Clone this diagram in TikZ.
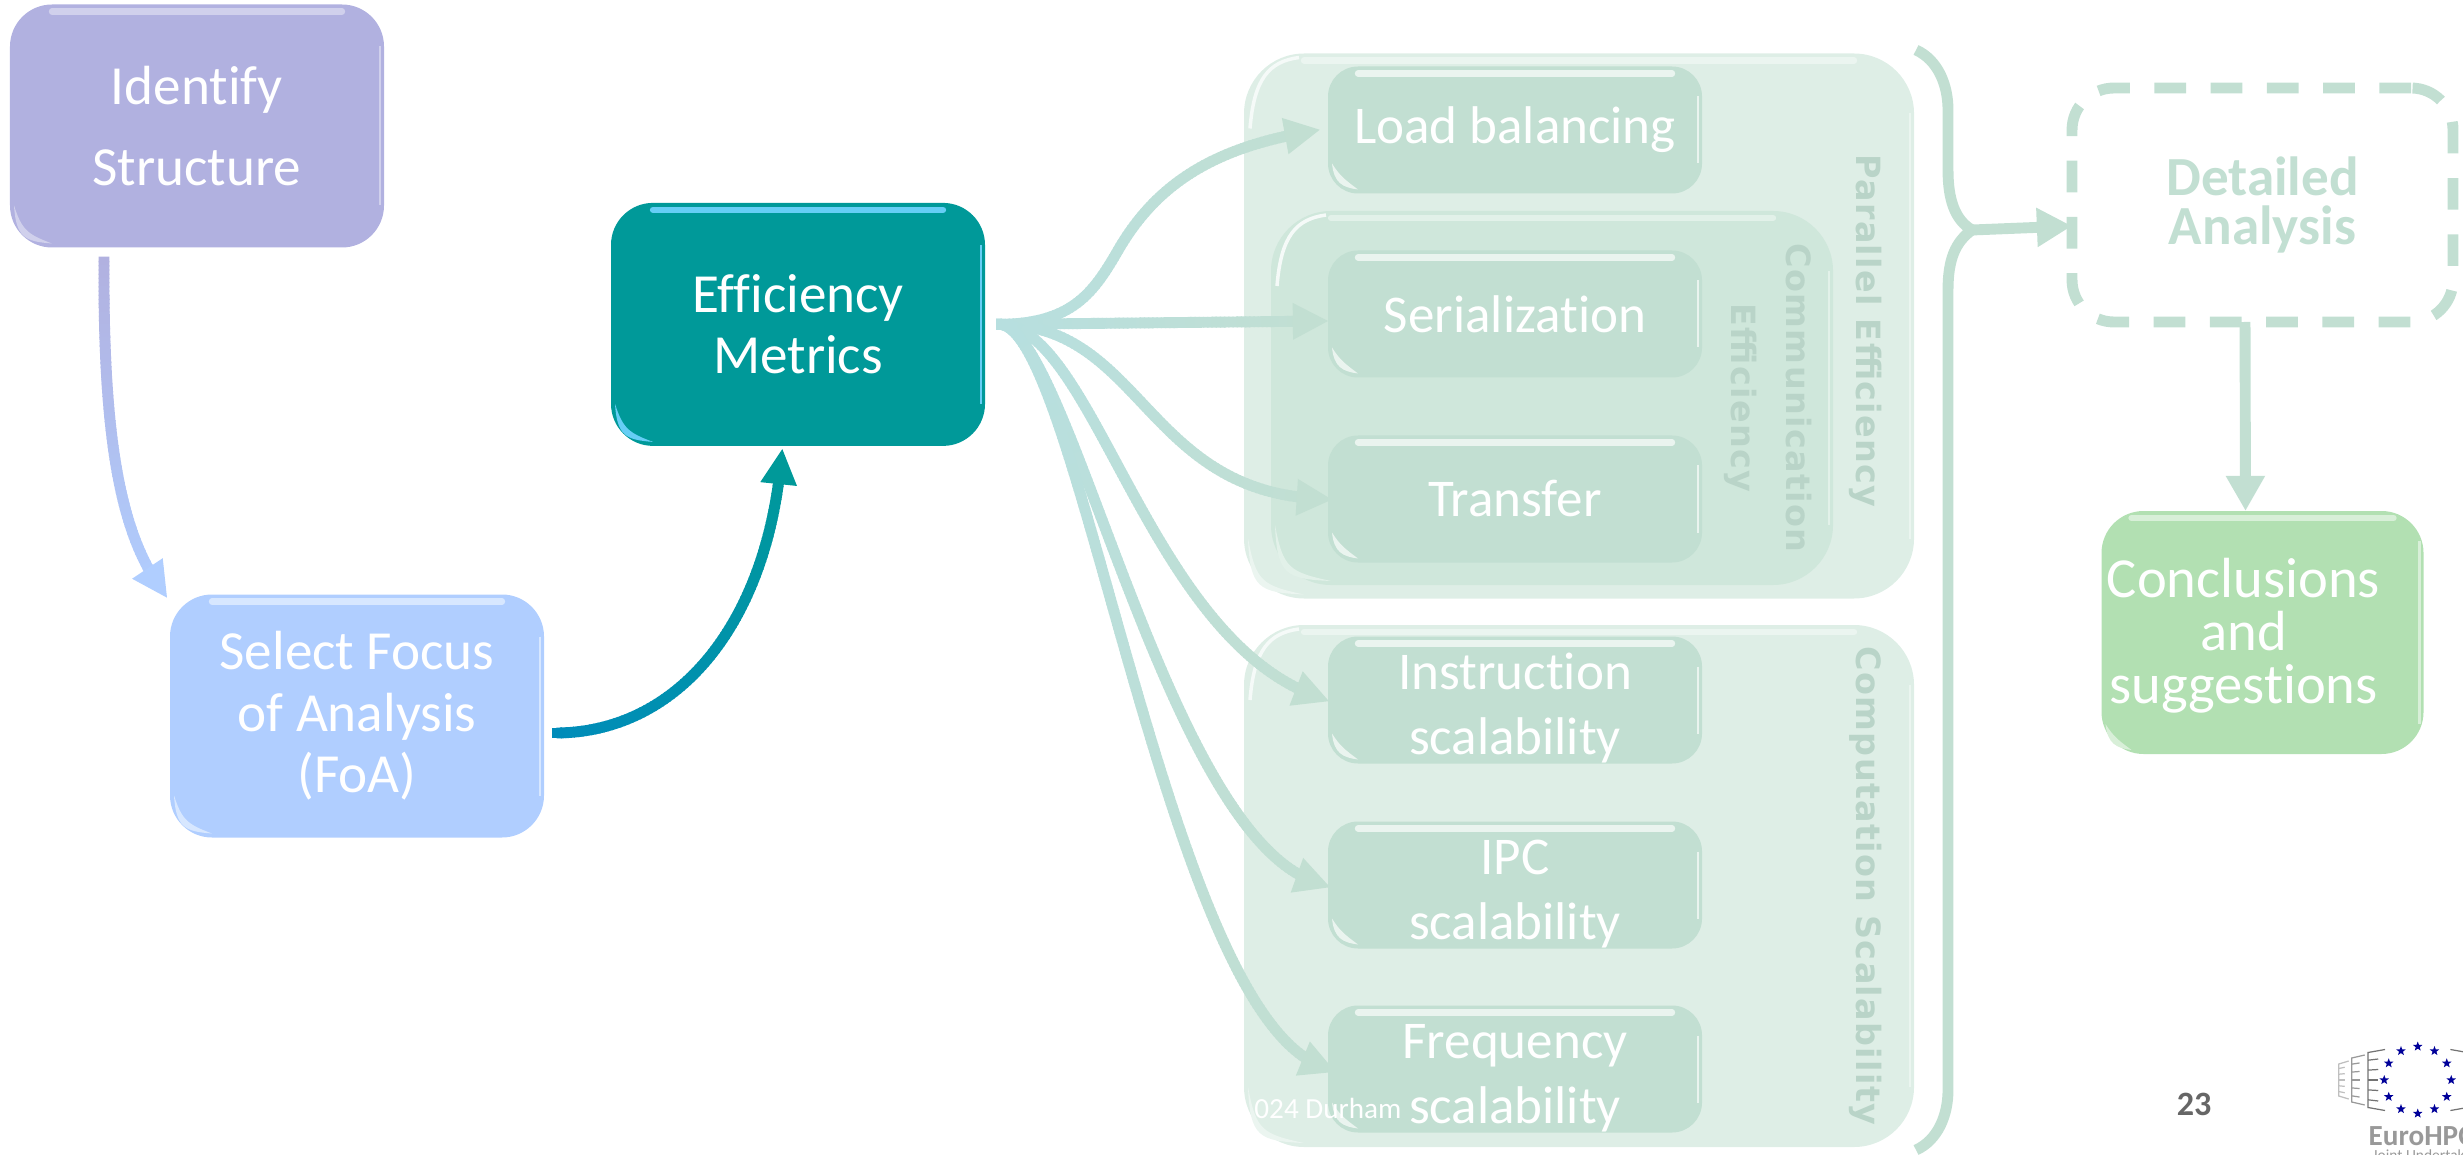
\documentclass[tikz,border=0pt]{standalone}
\usepackage{fontspec}
\setmainfont{Carlito}[Ligatures=NoCommon]
\newfontfamily\sidefont{DejaVu Sans}[LetterSpace=4]
\usetikzlibrary{arrows.meta,positioning,shapes.geometric,decorations.markings,calc}
\definecolor{identcol}{HTML}{B1B1E0}
\definecolor{foacol}{HTML}{B0CEFF}
\definecolor{effcol}{HTML}{009999}
\definecolor{linkcol}{HTML}{008CBA}
\definecolor{fancol}{HTML}{B7DFDF}
\definecolor{leafcol}{HTML}{C2DFD2}
\definecolor{outercol}{HTML}{DEEEE6}
\definecolor{innercol}{HTML}{CFE7DB}
\definecolor{conccol}{HTML}{B2E0B2}
\definecolor{sidecol}{HTML}{B9D4C8}
\tikzset
{
    process/.style={rectangle, rounded corners=0.42cm, minimum width=3.74cm, minimum height=2.43cm, inner sep=0pt, outer sep=0pt, align=center, text=white, font=\fontsize{15.7}{#1}\selectfont},
    leaf/.style={process=19, rounded corners=0.3cm, minimum height=1.27cm, fill=leafcol, font=\fontsize{15.1}{18.7}\selectfont},
    group/.style={rectangle, rounded corners=0.6cm, minimum width=6.7cm, inner sep=0pt, outer sep=0pt},
    sidelabel/.style={rotate=-90, align=center, text=sidecol, font=\sidefont\bfseries\fontsize{9.5}{15.4}\selectfont},
    arrow/.style={line width=3.1pt, -{Triangle[length=10pt,width=10.5pt]}},
    gradline/.style 2 args={draw=none, postaction={decorate, decoration={markings, mark=between positions 0 and -9pt step 1.2pt with {\pgfmathsetmacro{\gradmix}{\pgfkeysvalueof{/pgf/decoration/mark info/distance from start}/\pgfdecoratedpathlength*100}\fill[#2!\gradmix!#1] (-0.8pt,-1.55pt) rectangle (0.8pt,1.55pt);}, mark=at position -5pt with {\fill[#2] (-5pt,-5.25pt) -- (5pt,0pt) -- (-5pt,5.25pt) -- cycle;}}}},
    logostar/.style={star, star points=5, star point ratio=2.4, fill=blue!60!black, inner sep=0pt, minimum size=0.1cm}
}
\newcommand{\glossy}[3]{%
	\draw [#2, line width=1.8pt, line cap=round] ([xshift=#3,yshift=-0.07cm]#1.north west) -- ([xshift=-#3,yshift=-0.07cm]#1.north east);
	\draw [#2, line width=0.7pt] ([xshift=-0.04cm,yshift=-#3]#1.north east) -- ([xshift=-0.04cm,yshift=#3]#1.south east);
	\fill [#2] ([xshift=0.04cm,yshift=#3]#1.south west) .. controls ([xshift=0.06cm,yshift=0.1cm]#1.south west) and ([xshift=0.15cm,yshift=0.06cm]#1.south west) .. ([xshift=#3,yshift=0.04cm]#1.south west) .. controls ([xshift=0.18cm,yshift=0.13cm]#1.south west) and ([xshift=0.12cm,yshift=0.17cm]#1.south west) .. cycle;
}
\newcommand{\topglint}[1]{%
	\draw [white!70!outercol, line width=1pt] ([xshift=0.06cm,yshift=-0.75cm]#1.north west) .. controls ([xshift=0.1cm,yshift=-0.25cm]#1.north west) and ([xshift=0.25cm,yshift=-0.08cm]#1.north west) .. ([xshift=0.55cm,yshift=-0.04cm]#1.north west);
}
\newcommand{\lowline}[1]{\raisebox{-0.22cm}[0pt][0pt]{#1}}

\begin{document}
\begin{tikzpicture}
	\useasboundingbox (0,0) rectangle (24.63,-11.55);

	% grouped metrics, behind the leaves
	\node (pe) [group, minimum height=5.45cm, fill=outercol] at (15.79,-3.26) {};
	\node (ce) [group, minimum width=5.62cm, minimum height=3.74cm, fill=innercol] at (15.52,-3.98) {};
	\node (cs) [group, minimum height=5.22cm, fill=outercol] at (15.79,-8.86) {};

	\node (ident) [process=23.2, fill=identcol] at (1.97,-1.26) {Identify\\Structure};
	\node (foa) [process=17.5, fill=foacol, below of=ident, xshift=1.6cm, yshift=-4.9cm] {Select Focus\\of Analysis\\(FoA)};
	\node (eff) [process=17.4, fill=effcol, right of=foa, xshift=3.41cm, yshift=3.916cm] {Efficiency\\Metrics};

	\node (load) [leaf, right of=eff, xshift=6.17cm, yshift=1.944cm] {Load balancing};
	\node (ser) [leaf, below of=load, yshift=-0.84cm] {Serialization};
	\node (trans) [leaf, below of=ser, yshift=-0.85cm] {Transfer};
	\node (ins) [leaf, below of=trans, yshift=-1.01cm] {\lowline{Instruction}\\\lowline{scalability}};
	\node (ipc) [leaf, below of=ins, yshift=-0.85cm] {\lowline{IPC}\\\lowline{scalability}};
	\node (freq) [leaf, below of=ipc, yshift=-0.84cm] {\lowline{Frequency}\\\lowline{scalability}};

	\node (det) [process=14, minimum width=3.81cm, minimum height=2.34cm, draw=leafcol, line width=3.1pt, dash pattern=on 9pt off 7pt, right of=pe, xshift=5.835cm, yshift=1.21cm, text=leafcol] {\textbf{Detailed}\\\textbf{Analysis}};
	\node (conc) [process=15, minimum width=3.22cm, fill=conccol, below of=det, yshift=-3.275cm] {};
	\node (conctext) [align=center, text=white, font=\fontsize{16.1}{15.1}\selectfont, inner sep=0pt] at ([xshift=-0.19cm,yshift=-0.03cm]conc.center) {Conclusions\\and\\suggestions};

	\node (pelabel) [sidelabel] at ([xshift=-0.48cm,yshift=-0.05cm]pe.east) {Parallel Efficiency};
	\node (celabel) [sidelabel] at ([xshift=-0.65cm]ce.east) {Communication\\Efficiency};
	\node (cslabel) [sidelabel] at ([xshift=-0.48cm]cs.east) {Computation Scalability};

	\glossy{ident}{identcol!60!white}{0.42cm}
	\glossy{foa}{foacol!50!white}{0.42cm}
	\glossy{eff}{cyan!60!white}{0.42cm}
	\glossy{conc}{conccol!50!white}{0.3cm}
	\glossy{pe}{outercol!60!white}{0.6cm}
	\glossy{ce}{innercol!60!white}{0.6cm}
	\glossy{cs}{outercol!60!white}{0.6cm}
	\topglint{pe}
	\topglint{ce}
	\topglint{cs}
	\foreach \leafname in {load,ser,trans,ins,ipc,freq}
	{
		\glossy{\leafname}{leafcol!35!white}{0.3cm}
	}

	\node (venue) [text=white, font=\fontsize{8.3}{10}\selectfont, anchor=west] at (12.42,-11.08) {024 Durham};
	\node (page) [text=black!60, font=\bfseries\fontsize{9.7}{11}\selectfont] at (21.94,-11.04) {23};

	% flow on the left
	\draw [gradline={identcol}{foacol}] ([xshift=-0.93cm,yshift=-0.12cm]ident.south) .. controls (1.03,-4.4) and (1.2,-5.4) .. ([xshift=-0.02cm,yshift=-0.03cm]foa.north west);
	\draw [gradline={linkcol}{effcol}] ([xshift=0.11cm,yshift=-0.17cm]foa.east) .. controls (6.8,-7.33) and (7.7,-6.2) .. ([xshift=-0.16cm,yshift=-0.03cm]eff.south);

	% fan out of the metrics box
	\coordinate (fan) at ([xshift=0.14cm]eff.east);
	\draw [gradline={fancol}{leafcol}] (fan) .. controls (10.75,-3.24) and (10.95,-2.9) .. (11.2,-2.47) .. controls (11.6,-1.8) and (12.2,-1.45) .. ([xshift=-0.08cm]load.west);
	\draw [gradline={fancol}{leafcol}] (fan) -- ([yshift=-0.07cm]ser.west);
	\draw [gradline={fancol}{leafcol}] (fan) .. controls (11.45,-3.24) and (11.45,-4.99) .. ([xshift=0.04cm]trans.west);
	\draw [gradline={fancol}{leafcol}] (fan) .. controls (10.95,-3.24) and (11.5,-6.5) .. (ins.west);
	\draw [gradline={fancol}{leafcol}] (fan) .. controls (10.7,-3.24) and (11.7,-8.6) .. (ipc.west);
	\draw [gradline={fancol}{leafcol}] (fan) .. controls (10.8,-3.24) and (11.7,-10.4) .. ([xshift=0.04cm]freq.west);

	% brace round the groups
	\coordinate (bracetip) at (19.72,-2.30);
	\draw [leafcol, line width=3.1pt] (19.16,-0.5) .. controls (19.38,-0.6) and (19.48,-0.85) .. (19.48,-1.1) -- (19.48,-1.7) .. controls (19.48,-2.0) and (19.55,-2.2) .. (bracetip) .. controls (19.55,-2.42) and (19.48,-2.6) .. (19.48,-2.9) -- (19.48,-10.9) .. controls (19.48,-11.15) and (19.38,-11.4) .. (19.16,-11.5);
	\draw [arrow, leafcol] (bracetip) -- ([yshift=-0.21cm]det.west);
	\draw [arrow, leafcol] ([xshift=-0.175cm]det.south) -- ([xshift=-0.17cm]conc.north);

	% logo in the corner
	\foreach \ang in {0,30,...,330}
		\node [logostar] at ($(24.177,-10.80)+(\ang:0.335)$) {};
	\foreach \col/\shade/\wid/\hgt in {0.497/55/0.17/0.275, 0.66/40/0.13/0.22, 0.79/25/0.1/0.16}
	{
		\draw [black!\shade, line width=0.35pt] (24.177-\col+\wid,\hgt-10.8+0.03) -- (24.177-\col,\hgt-10.8) -- (24.177-\col,-\hgt-10.8) -- (24.177-\col+\wid,-\hgt-10.8-0.03);
		\draw [black!\shade, line width=0.35pt] (24.177+\col-\wid,\hgt-10.8+0.03) -- (24.177+\col,\hgt-10.8);
		\draw [black!\shade, line width=0.35pt] (24.177+\col-\wid,-\hgt-10.8-0.03) -- (24.177+\col,-\hgt-10.8);
		\foreach \tick in {-0.6,-0.3,0,0.3,0.6}
			\draw [black!\shade, line width=0.35pt] (24.177-\col,\tick*\hgt*1.2-10.8) -- ++(\wid*0.6,\tick*0.02);
	}
	\node (logo) [text=black!40, font=\bfseries\fontsize{8.3}{9}\selectfont, anchor=west, inner sep=0pt] at (23.68,-11.36) {EuroHPC};
	\node (logosub) [text=black!40, font=\fontsize{4.4}{5}\selectfont, anchor=north west, inner sep=0pt] at (23.72,-11.49) {Joint Undertaking};
\end{tikzpicture}
\end{document}
